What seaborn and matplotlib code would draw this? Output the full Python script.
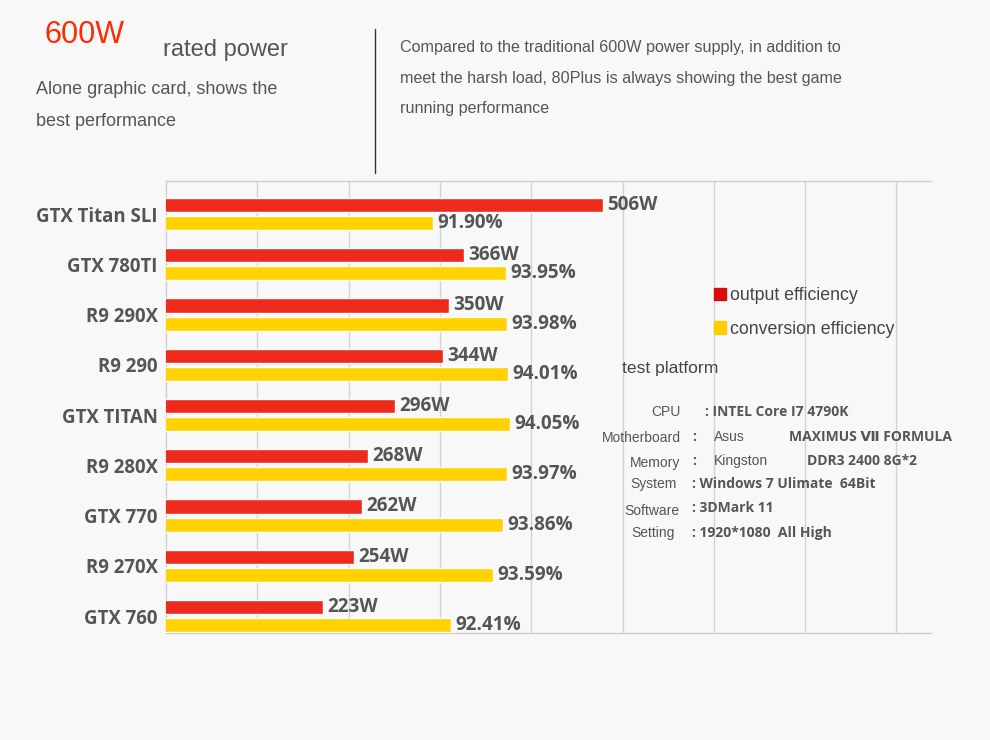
import matplotlib
matplotlib.use("Agg")
import matplotlib.pyplot as plt
from matplotlib.patches import Patch
from matplotlib.lines import Line2D
import seaborn as sns
import numpy as np

# data
cards = ["GTX Titan SLI", "GTX 780TI", "R9 290X", "R9 290", "GTX TITAN",
         "R9 280X", "GTX 770", "R9 270X", "GTX 760"]
output_w = [506, 366, 350, 344, 296, 268, 262, 254, 223]
conversion_pct = [91.90, 93.95, 93.98, 94.01, 94.05, 93.97, 93.86, 93.59, 92.41]

platform_keys = ["CPU", "Motherboard", "Memory", "System", "Software", "Setting"]
platform_brand = ["", "Asus", "Kingston", "", "", ""]
platform_vals = ["INTEL Core I7 4790K", "MAXIMUS \u2166 FORMULA", "DDR3 2400 8G*2",
                 "Windows 7 Ulimate  64Bit", "3DMark 11", "1920*1080  All High"]

RED = "#ee2a1c"
YELLOW = "#ffd200"
GREY = "#555555"
REG = ["Liberation Sans", "DejaVu Sans"]
BOLD = ["Open Sans", "DejaVu Sans"]

sns.set_style("white")
plt.rcParams["font.family"] = REG

W, H = 990, 740
fig = plt.figure(figsize=(W / 100, H / 100), dpi=100, facecolor="#f8f8f9")


def fx(x):
    return x / W


def fy(y):
    return 1 - y / H


# chart box
ax = fig.add_axes([fx(166), fy(633), 765 / W, 452 / H])
ax.set_facecolor("none")
ax.set_xlim(0, 765 / 91.3)
ax.set_xticks(range(1, 9))
ax.grid(axis="x", color="#d2d2d2", lw=1)
ax.grid(axis="y", visible=False)
ax.set_axisbelow(True)
ax.tick_params(axis="x", length=0, labelbottom=False)
for s in ["top", "bottom", "left"]:
    ax.spines[s].set_color("#cfcfcf")
    ax.spines[s].set_linewidth(1)
ax.spines["right"].set_visible(False)

pos = np.arange(len(cards))

ax_r = ax.twiny()
ax_y = ax.twiny()

sns.barplot(x=output_w, y=pos - 0.18, orient="h", native_scale=True,
            color=RED, saturation=1, width=0.28, errorbar=None, ax=ax_r)
sns.barplot(x=conversion_pct, y=pos + 0.18, orient="h", native_scale=True,
            color=YELLOW, saturation=1, width=0.28, errorbar=None, ax=ax_y)

ax_r.set_xlim(64, 838)
ax_y.set_xlim(84.47, 105.78)
for a in (ax_r, ax_y):
    a.set_xlabel("")
    a.set_ylabel("")
    a.tick_params(top=False, labeltop=False, bottom=False, labelbottom=False)
    for s in a.spines.values():
        s.set_visible(False)

ax_r.bar_label(ax_r.containers[0], labels=[f"{w}W" for w in output_w],
               padding=3, fontsize=13.6, fontweight="bold", color=GREY,
               family=BOLD)
ax_y.bar_label(ax_y.containers[0], labels=[f"{p:.2f}%" for p in conversion_pct],
               padding=3, fontsize=13.6, fontweight="bold", color=GREY,
               family=BOLD)

ax.set_ylim(len(cards) - 1 + 0.338, -0.657)
ax.set_yticks(pos)
ax.set_yticklabels(cards, fontsize=13.4, fontweight="bold", color=GREY,
                   family=BOLD)
ax.tick_params(axis="y", length=0, pad=6)
ax.set_ylabel("")

# legend
handles = [Patch(color="#dd0a0a"), Patch(color="#ffcc00")]
fig.legend(handles, ["output efficiency", "conversion efficiency"],
           loc="upper left", bbox_to_anchor=(fx(714), fy(287)), frameon=False,
           fontsize=12.8, handlelength=0.7, handleheight=0.7,
           handletextpad=0.2, labelspacing=0.95, labelcolor="#444444",
           borderaxespad=0, borderpad=0)

# header texts
fig.text(fx(45), fy(43), "600W", fontsize=22, color="#ff2a00", va="baseline")
fig.text(fx(163), fy(56), "rated power", fontsize=17, color=GREY, va="baseline")
fig.text(fx(36), fy(94), "Alone graphic card, shows the", fontsize=13,
         color=GREY, va="baseline")
fig.text(fx(36), fy(126), "best performance", fontsize=13, color=GREY,
         va="baseline")
right_lines = ["Compared to the traditional 600W power supply, in addition to",
               "meet the harsh load, 80Plus is always showing the best game",
               "running performance"]
for i, line in enumerate(right_lines):
    fig.text(fx(400), fy(52 + 30.5 * i), line, fontsize=11.6, color=GREY,
             va="baseline")
fig.add_artist(Line2D([fx(375), fx(375)], [fy(29), fy(173)], color="#333333",
                      lw=1))

# test platform block
fig.text(fx(622), fy(373), "test platform", fontsize=12.6, color="#444444",
         va="baseline")
key_right = [681, 681, 680, 677, 679, 675]
row_y = [412, 438, 463, 484, 511, 533]
val_y = [412, 437, 461, 484, 508, 533]
for i, key in enumerate(platform_keys):
    fig.text(fx(key_right[i]), fy(row_y[i]), key, fontsize=10, color=GREY,
             ha="right", va="center")
    if platform_brand[i]:
        fig.text(fx(692), fy(val_y[i]), ":", fontsize=10, color=GREY,
                 va="center", fontweight="bold", family=BOLD)
        fig.text(fx(714), fy(val_y[i]), platform_brand[i], fontsize=10,
                 color=GREY, va="center")
        x0 = 789 if i == 1 else 807
        fig.text(fx(x0), fy(val_y[i]), platform_vals[i], fontsize=10,
                 color=GREY, va="center", fontweight="bold", family=BOLD)
    else:
        x0 = 705 if i == 0 else 692
        fig.text(fx(x0), fy(val_y[i]), ": " + platform_vals[i], fontsize=10,
                 color=GREY, va="center", fontweight="bold", family=BOLD)

fig.savefig("out.png", dpi=100, facecolor=fig.get_facecolor())
